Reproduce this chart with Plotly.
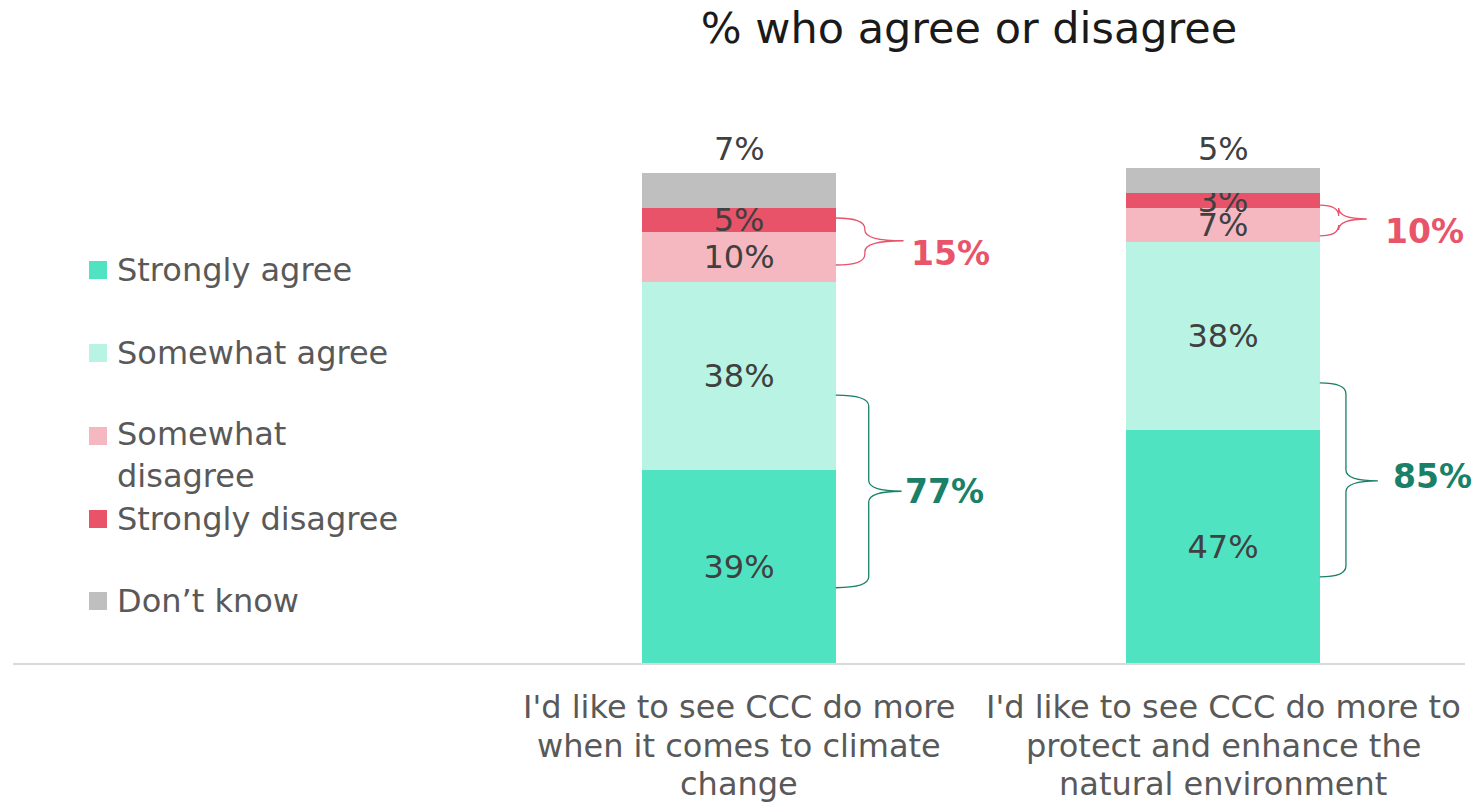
import plotly.graph_objects as go

# Survey statements and response shares (%)
statements = [
    "I'd like to see CCC do more<br>when it comes to climate<br>change",
    "I'd like to see CCC do more to<br>protect and enhance the<br>natural environment",
]
responses = ["Strongly agree", "Somewhat agree", "Somewhat disagree",
             "Strongly disagree", "Don\u2019t know"]
strongly_agree = [39, 47]
somewhat_agree = [38, 38]
somewhat_disagree = [10, 7]
strongly_disagree = [5, 3]
dont_know = [7, 5]

colors = ["#50E3C2", "#B8F3E4", "#F5B8C0", "#E85369", "#BFBFBF"]
GREEN_TXT = "#1A8068"
RED_TXT = "#E8546A"
FONT = "DejaVu Sans"

# Figure geometry (pixels)
W, H = 1478, 802
ML, MR, MT, MB = 13, 13, 100, 139
PW, PH = W - ML - MR, H - MT - MB
PX_PER_UNIT = 4.95
Y_MAX = PH / PX_PER_UNIT


def px_x(px):
    return (px - ML) / PW


def px_y(py):
    return (H - MB - py) / PH


xs = [0, 1]
BAR_W = 0.4
series = [strongly_agree, somewhat_agree, somewhat_disagree, strongly_disagree, dont_know]

fig = go.Figure()
for name, vals, col in zip(responses, series, colors):
    is_top = name == responses[-1]
    fig.add_trace(go.Bar(
        x=xs, y=vals, name=name, width=BAR_W,
        marker=dict(color=col, line=dict(width=0)),
        text=None if is_top else [f"{v}%" for v in vals],
        textposition="inside", insidetextanchor="middle", textangle=0,
        textfont=dict(family=FONT, size=32, color="#404040"),
        showlegend=False, hoverinfo="skip",
    ))

annotations = []
shapes = []

# "Don't know" values sit above each bar
for x, v in zip(xs, dont_know):
    annotations.append(dict(x=x, y=px_y(149), xref="x", yref="paper",
                            text=f"{v}%", showarrow=False, yanchor="middle",
                            font=dict(family=FONT, size=32, color="#404040")))

# Category labels under the axis, one line at a time for tighter leading
for x, label in zip(xs, statements):
    for k, line in enumerate(label.split("<br>")):
        annotations.append(dict(x=x, y=px_y(707 + 38.5 * k), xref="x", yref="paper",
                                text=line, showarrow=False, yanchor="middle",
                                font=dict(family=FONT, size=32, color="#595959")))


def brace(xe, xv, xt, yt, ym, yb, r=2.2):
    return (f"M {xe},{yt} Q {xv},{yt} {xv},{yt - r} L {xv},{ym + r} "
            f"Q {xv},{ym} {xt},{ym} Q {xv},{ym} {xv},{ym - r} "
            f"L {xv},{yb + r} Q {xv},{yb} {xe},{yb}")


# Net agree / net disagree braces: (bar, vertical offset, tip offset, top, mid, bottom, label x, label y, colour, value)
agree_net = [a + b for a, b in zip(strongly_agree, somewhat_agree)]
disagree_net = [a + b for a, b in zip(somewhat_disagree, strongly_disagree)]
braces = [
    (0, 0.068, 0.136, 54.1, 34.7, 15.2, 903, 491, GREEN_TXT, agree_net[0]),
    (1, 0.054, 0.120, 56.6, 36.8, 17.4, 1391, 476, GREEN_TXT, agree_net[1]),
    (0, 0.060, 0.140, 89.9, 85.3, 80.4, 909, 253, RED_TXT, disagree_net[0]),
    (1, 0.039, 0.097, 92.5, 89.7, 86.3, 1383, 231, RED_TXT, disagree_net[1]),
]
for i, dv, dt, yt, ym, yb, lx, ly, col, val in braces:
    xe = xs[i] + BAR_W / 2
    shapes.append(dict(type="path", xref="x", yref="y",
                       path=brace(xe, xe + dv, xe + dt, yt, ym, yb),
                       line=dict(color=col, width=1.3)))
    annotations.append(dict(x=px_x(lx), y=px_y(ly), xref="paper", yref="paper",
                            text=f"<b>{val}%</b>", showarrow=False,
                            xanchor="left", yanchor="middle",
                            font=dict(family=FONT, size=33, color=col)))

# Legend on the left
legend_rows = [
    ("Strongly agree", 270),
    ("Somewhat agree", 353),
    ("Somewhat<br>disagree", 455),
    ("Strongly disagree", 519),
    ("Don\u2019t know", 601),
]
square_top = [261, 344, 427, 510, 592]
for (label, cy), col, st in zip(legend_rows, colors, square_top):
    shapes.append(dict(type="rect", xref="paper", yref="paper",
                       x0=px_x(89), x1=px_x(107), y0=px_y(st + 18), y1=px_y(st),
                       fillcolor=col, line=dict(width=0)))
    annotations.append(dict(x=px_x(115), y=px_y(cy), xref="paper", yref="paper",
                            text=label, showarrow=False, xanchor="left",
                            yanchor="middle", align="left",
                            font=dict(family=FONT, size=32, color="#595959")))

fig.update_layout(
    width=W, height=H,
    margin=dict(l=ML, r=MR, t=MT, b=MB, autoexpand=False),
    barmode="stack", bargap=0,
    plot_bgcolor="white", paper_bgcolor="white",
    uniformtext=dict(minsize=32, mode="show"),
    title=dict(text="% who agree or disagree", x=969 / W, xanchor="center",
               y=1 - 28 / H, yanchor="middle",
               font=dict(family=FONT, size=43, color="#1A1A1A")),
    xaxis=dict(range=[-1.5, 1.5], tickvals=xs, showticklabels=False,
               showgrid=False, zeroline=False, showline=True, automargin=False,
               linecolor="#D9D9D9", linewidth=2, ticks=""),
    yaxis=dict(range=[0, Y_MAX], visible=False, showgrid=False, zeroline=False,
               automargin=False),
    shapes=shapes, annotations=annotations,
    showlegend=False,
)

fig.write_html("out.html")
